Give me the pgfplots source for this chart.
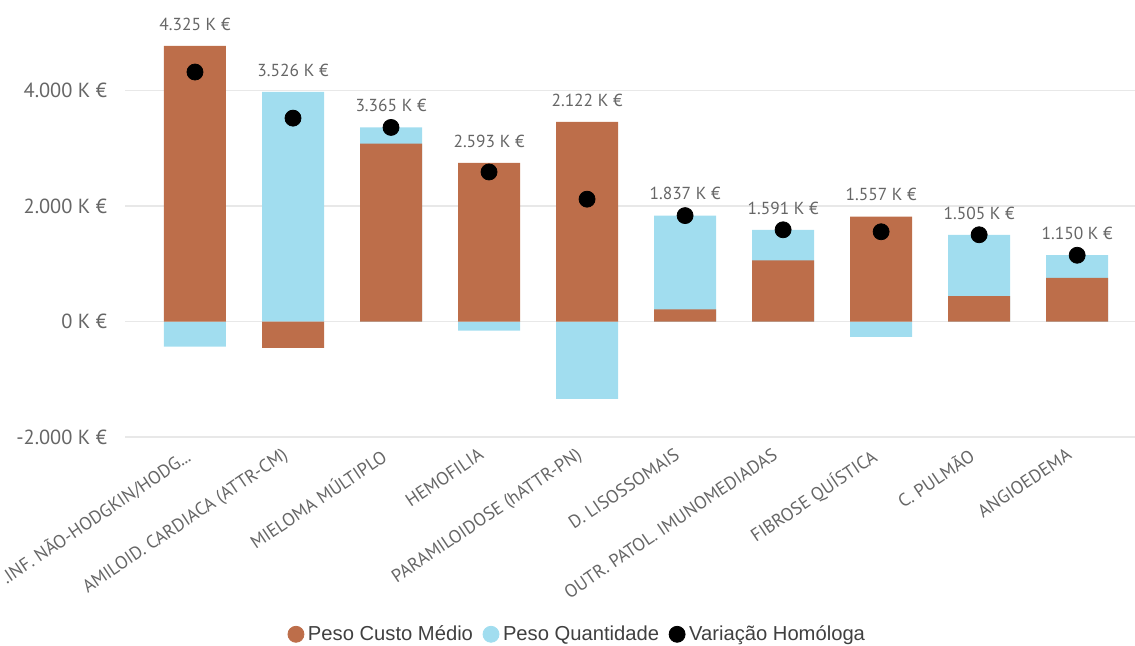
\documentclass[border=0pt]{standalone}
\usepackage{pgfplots}
\pgfplotsset{compat=1.18}
\usepackage{fontspec}
\setmainfont{PT Sans}
\newfontfamily\legfont{Liberation Sans}
\definecolor{custo}{RGB}{189,110,74}
\definecolor{quant}{RGB}{161,221,239}
\definecolor{txt}{RGB}{102,102,102}
\definecolor{gridc}{RGB}{232,232,232}
\newcommand{\trunc}{.\kern0pt.\kern0pt.}
\begin{document}
\begin{tikzpicture}
\path[use as bounding box] (-62.5pt,-104pt) rectangle (505pt,218.5pt);
\begin{axis}[
  scale only axis, width=505pt, height=213.5pt,
  xmin=-0.714, xmax=9.59, ymin=-2000, ymax=5400,
  axis line style={draw=none},
  tick style={draw=none},
  ytick={-2000,0,2000,4000},
  yticklabels={-2.000 K €, 0 K €, 2.000 K €, 4.000 K €},
  ymajorgrids, grid style={gridc, line width=0.7pt},
  xtick={0,1,2,3,4,5,6,7,8,9},
  xticklabels={{.INF. NÃO-HODGKIN/HODG\trunc}, {AMILOID. CARDIACA (ATTR-CM)}, {MIELOMA MÚLTIPLO}, {HEMOFILIA}, {PARAMILOIDOSE (hATTR-PN)}, {D. LISOSSOMAIS}, {OUTR. PATOL. IMUNOMEDIADAS}, {FIBROSE QUÍSTICA}, {C. PULMÃO}, {ANGIOEDEMA}},
  xticklabel style={rotate=34, anchor=north east, font=\fontsize{9.1}{10}\selectfont, text=txt, inner sep=0pt, yshift=-0.8pt, xshift=-7.5pt},
  yticklabel style={font=\fontsize{10.2}{12}\selectfont, text=txt, xshift=-5.5pt},
  legend style={at={(0.449,-0.462)}, anchor=center, draw=none, font=\legfont\fontsize{10.1}{12}\selectfont, text=black!75,
    legend columns=3, /tikz/every even column/.append style={column sep=3pt}},
  legend cell align=left,
]
\addlegendimage{only marks, mark=*, mark size=4pt, mark options={draw=custo, fill=custo}}
\addlegendentry{Peso Custo Médio}
\addlegendimage{only marks, mark=*, mark size=4pt, mark options={draw=quant, fill=quant}}
\addlegendentry{Peso Quantidade}
\addlegendimage{only marks, mark=*, mark size=4pt, mark options={draw=black, fill=black}}
\addlegendentry{Variação Homóloga}
% Peso Quantidade (positive parts drawn from 0 as total of stack top)
\addplot[ybar, bar width=31pt, bar shift=0pt, fill=quant, draw=none, forget plot] coordinates {
 (0,-433) (1,3981) (2,3365) (3,-157) (4,-1338) (5,1837) (6,1591) (7,-263) (8,1505) (9,1150)};
% Peso Custo Medio
\addplot[ybar, bar width=31pt, bar shift=0pt, fill=custo, draw=none, forget plot] coordinates {
 (0,4780) (1,-455) (2,3083) (3,2750) (4,3460) (5,210) (6,1060) (7,1820) (8,440) (9,760)};
% value labels above positive top
\addplot[draw=none, mark=none, forget plot, point meta=explicit,
  nodes near coords={\pgfmathprintnumber[fixed, precision=0, 1000 sep={.}, assume math mode=true]{\pgfplotspointmeta}~K~€},
  nodes near coords style={anchor=south, inner sep=0pt, yshift=7.5pt, font=\fontsize{8.7}{10}\selectfont, text=txt}]
 coordinates {
 (0,4780)[4325] (1,3981)[3526] (2,3365)[3365] (3,2750)[2593] (4,3460)[2122]
 (5,1837)[1837] (6,1591)[1591] (7,1820)[1557] (8,1505)[1505] (9,1150)[1150]};
% Variacao Homologa
\addplot[only marks, mark=*, mark size=4pt, black, forget plot] coordinates {
 (0,4325) (1,3526) (2,3365) (3,2593) (4,2122) (5,1837) (6,1591) (7,1557) (8,1505) (9,1150)};
\end{axis}
\end{tikzpicture}
\end{document}
